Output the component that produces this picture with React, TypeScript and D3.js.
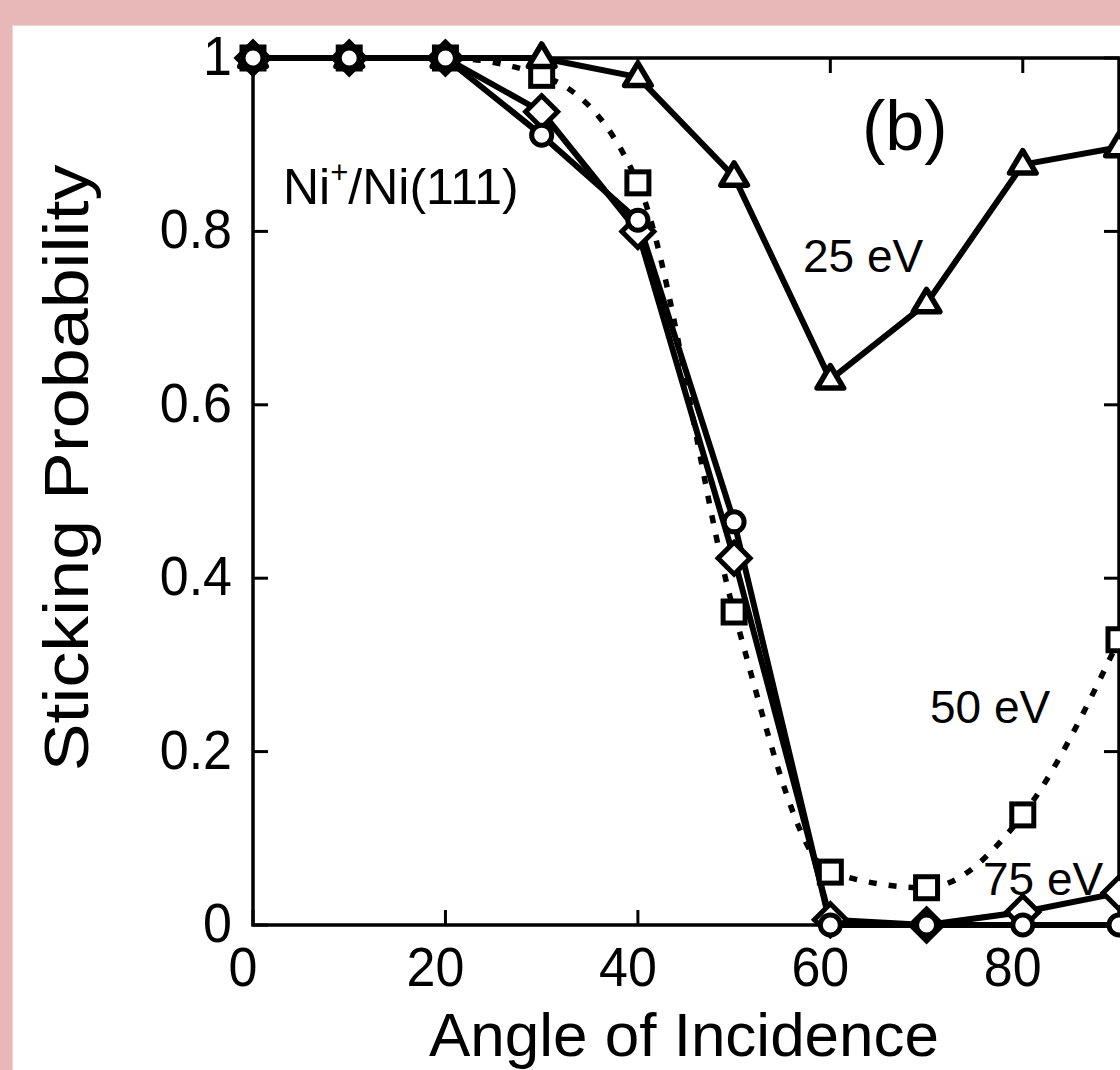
import * as d3 from 'd3';

// angle of incidence (deg)
const angles = [0, 10, 20, 30, 40, 50, 60, 70, 80, 90];
// sticking probability per energy
const stick25 = [1, 1, 1, 1, 0.978, 0.863, 0.629, 0.717, 0.877, 0.897];
const stick50 = [1, 1, 1, 0.98, 0.856, 0.361, 0.061, 0.043, 0.127, 0.329];
const stick75 = [1, 1, 1, 0.938, 0.8, 0.423, 0.006, 0, 0.015, 0.037];
const stick100 = [1, 1, 1, 0.911, 0.813, 0.465, 0, 0, 0, 0];

const xTicks = [0, 20, 40, 60, 80];
const yTicks = [0, 0.2, 0.4, 0.6, 0.8, 1];
const yTickLabels = ['0', '0.2', '0.4', '0.6', '0.8', '1'];

const W = 1120;
const H = 1070;
const font = '"Liberation Sans", Arial, Helvetica, sans-serif';

const x = d3.scaleLinear().domain([0, 90]).range([253, 1119]);
const y = d3.scaleLinear().domain([0, 1]).range([925, 58]);

const pts = (vals: number[]) => angles.map((a, i) => [x(a), y(vals[i])] as [number, number]);

const straight = d3.line();
const smooth = d3.line().curve(d3.curveMonotoneX);

const triangle = (cx: number, cy: number, s: number) =>
  `M${cx},${cy - s}L${cx + s * 0.95},${cy + s * 0.6}L${cx - s * 0.95},${cy + s * 0.6}Z`;
const diamond = (cx: number, cy: number, s: number) =>
  `M${cx},${cy - s}L${cx + s},${cy}L${cx},${cy + s}L${cx - s},${cy}Z`;

export default function App() {
  const [x0, x1] = x.range();
  const [yb, yt] = y.range();
  return (
    <svg width={W} height={H} style={{ position: 'absolute', left: 0, top: 0 }} fontFamily={font}>
      <rect width={W} height={H} fill="#e8b8b8" />
      <rect x={12} y={25} width={W} height={H} fill="#f6d2d2" />
      <rect x={13} y={26} width={W} height={H} fill="#fff" />

      {/* frame */}
      <rect x={x0} y={yt} width={x1 - x0} height={yb - yt} fill="none" stroke="#000" strokeWidth={3.5} />
      {yTicks.map(t => (
        <g key={'yt' + t}>
          <line x1={x0} x2={x0 + 15} y1={y(t)} y2={y(t)} stroke="#000" strokeWidth={3} />
          <line x1={x1} x2={x1 - 15} y1={y(t)} y2={y(t)} stroke="#000" strokeWidth={3} />
        </g>
      ))}
      {xTicks.map(t => (
        <g key={'xt' + t}>
          <line x1={x(t)} x2={x(t)} y1={yb} y2={yb - 15} stroke="#000" strokeWidth={3} />
          <line x1={x(t)} x2={x(t)} y1={yt} y2={yt + 15} stroke="#000" strokeWidth={3} />
        </g>
      ))}

      {/* tick labels */}
      {yTicks.map((t, i) => (
        <text key={'yl' + t} transform={`translate(232,${y(t) + 17}) scale(1,1.08)`} fontSize={52} textAnchor="end">
          {yTickLabels[i]}
        </text>
      ))}
      {xTicks.map(t => (
        <text key={'xl' + t} transform={`translate(${x(t) - 10},986) scale(1,1.08)`} fontSize={52} textAnchor="middle">
          {t}
        </text>
      ))}

      {/* axis titles */}
      <text x={684} y={1056} fontSize={62} textAnchor="middle">Angle of Incidence</text>
      <text transform="translate(88,468) rotate(-90) scale(1.14,1)" fontSize={63} textAnchor="middle">
        Sticking Probability
      </text>

      {/* lines */}
      <path d={straight(pts(stick25))!} fill="none" stroke="#000" strokeWidth={6} strokeLinejoin="round" />
      <path d={smooth(pts(stick50))!} fill="none" stroke="#000" strokeWidth={5.5} strokeDasharray="8 12" />
      <path d={straight(pts(stick75))!} fill="none" stroke="#000" strokeWidth={6} strokeLinejoin="round" />
      <path d={straight(pts(stick100))!} fill="none" stroke="#000" strokeWidth={6} strokeLinejoin="round" />

      {/* markers */}
      {pts(stick50).map(([cx, cy], i) => (
        <rect key={'s' + i} x={cx - 11} y={cy - 11} width={22} height={22} fill="#fff" stroke="#000" strokeWidth={5} />
      ))}
      {pts(stick25).map(([cx, cy], i) => (
        <path key={'t' + i} d={triangle(cx, cy, 14)} fill="#fff" stroke="#000" strokeWidth={5.5} strokeLinejoin="round" />
      ))}
      {pts(stick75).map(([cx, cy], i) => (
        <path key={'d' + i} d={diamond(cx, cy, 16)} fill="#fff" stroke="#000" strokeWidth={5} />
      ))}
      {pts(stick100).map(([cx, cy], i) => (
        <circle key={'c' + i} cx={cx} cy={cy} r={10} fill="#fff" stroke="#000" strokeWidth={5} />
      ))}

      {/* annotations */}
      <text x={283} y={204} fontSize={50}>
        Ni<tspan fontSize={31} dy={-21}>+</tspan><tspan dy={21}>/Ni(111)</tspan>
      </text>
      <text x={862} y={150} fontSize={70}>(b)</text>
      <text x={803} y={272} fontSize={46}>25 eV</text>
      <text x={930} y={723} fontSize={46}>50 eV</text>
      <text x={983} y={895} fontSize={46}>75 eV</text>
    </svg>
  );
}
